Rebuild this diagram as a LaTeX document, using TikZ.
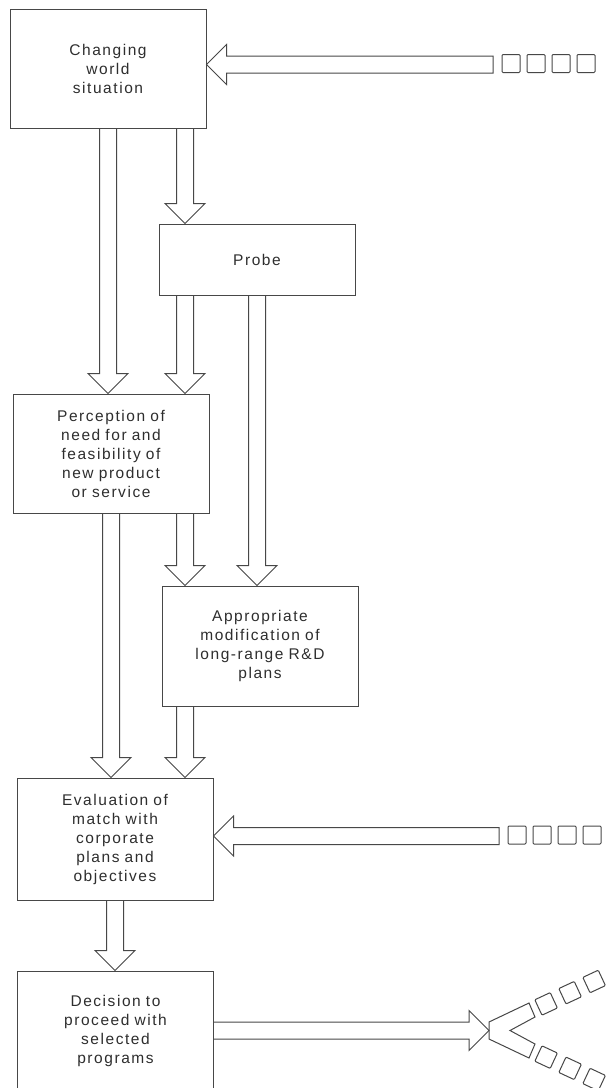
\documentclass[tikz,border=0pt]{standalone}
\usepackage{fontspec}
\setmainfont{Liberation Sans}[LetterSpace=10]
\usetikzlibrary{calc}

\definecolor{lin}{HTML}{474747}
\definecolor{txt}{HTML}{2E2E2E}

\newcommand\blkarrow{%
  ($(\tikztostart)!8.5pt!90:(\tikztotarget)$)
  -- ($(\tikztotarget)!20pt!(\tikztostart)!8.5pt!90:(\tikztotarget)$)
  -- ($(\tikztotarget)!20pt!(\tikztostart)!20pt!90:(\tikztotarget)$)
  -- (\tikztotarget)
  -- ($(\tikztotarget)!20pt!(\tikztostart)!20pt!-90:(\tikztotarget)$)
  -- ($(\tikztotarget)!20pt!(\tikztostart)!8.5pt!-90:(\tikztotarget)$)
  -- ($(\tikztostart)!8.5pt!-90:(\tikztotarget)$)}

\tikzset{
  stage/.style={draw=lin, line width=1pt, minimum width=196pt, inner sep=0pt,
    text width=184pt, align=center, text=txt,
    font=\fontsize{15.5}{19}\selectfont},
  sq/.style={draw=lin, line width=1pt, minimum size=18pt, inner sep=0pt,
    rounded corners=1pt},
  blk/.style={draw=lin, line width=1pt, line join=miter, to path={\blkarrow}},
  feed/.style={draw=lin, line width=1pt, line join=miter, to path={\blkarrow -- cycle}}
}

\begin{document}
\begin{tikzpicture}[x=1pt, y=-1pt]
\useasboundingbox[fill=white] (0,0) rectangle (607,1088);

\node[stage, minimum height=119pt] (world) at (108,68.5) {Changing\\world\\situation};
\node[stage, minimum height=71pt] (probe) at (257,259.5) {Probe};
\node[stage, minimum height=119pt] (percep) at (111,453.5)
  {Perception of\\need for and\\feasibility of\\new product\\or service};
\node[stage, minimum height=120pt] (approp) at (260,646)
  {Appropriate\\modification of\\long-range R\&D\\plans};
\node[stage, minimum height=122pt] (eval) at (115,839)
  {Evaluation of\\match with\\corporate\\plans and\\objectives};
\node[stage, minimum height=119pt] (decide) at (115.5,1030.5)
  {Decision to\\proceed with\\selected\\programs};

\coordinate (lane) at (185,0);
\coordinate (in1) at (493,64.5);
\coordinate (in2) at (499,836);
\coordinate (out) at (489,1030.5);

\draw[feed] (in1) to (world.east |- in1);
\draw[feed] (in2) to (eval.east |- in2);
\foreach \i in {0,...,3} {
  \node[sq] at ($(in1)+(18+25*\i,-1)$) {};
  \node[sq] at ($(in2)+(18+25*\i,-1)$) {};
}

\draw[blk] (world.south) to (world.south |- percep.north);
\draw[blk] (world.south -| lane) to (probe.north -| lane);
\draw[blk] (probe.south -| lane) to (percep.north -| lane);
\draw[blk] (probe.south) to (probe.south |- approp.north);
\draw[blk] (percep.south) to (percep.south |- eval.north);
\draw[blk] (percep.south -| lane) to (approp.north -| lane);
\draw[blk] (approp.south -| lane) to (eval.north -| lane);
\draw[blk] (eval.south) to (eval.south |- decide.north);
\draw[blk] (decide.east |- out) to (out);

\begin{scope}[shift={(out)}]
\draw[draw=lin, line width=1pt, line join=miter]
  (0,-8.5) -- (40,-27.5) -- (46,-13.5) -- (21,0) -- (46,13.5) -- (40,27.5)
  -- (0,8.5) -- cycle;
\end{scope}
\foreach \i in {0,1,2} {
  \node[sq, minimum size=17pt, rotate=25] at ($(out)+(-25:63+26.5*\i)$) {};
  \node[sq, minimum size=17pt, rotate=-25] at ($(out)+(25:63+26.5*\i)$) {};
}
\end{tikzpicture}
\end{document}
